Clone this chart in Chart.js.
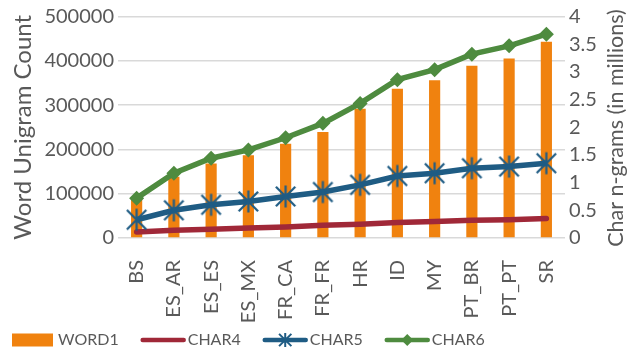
<!DOCTYPE html>
<html>
<head>
<meta charset="utf-8">
<script src="https://cdn.jsdelivr.net/npm/chart.js@4"></script>
<style>
  html, body { margin: 0; padding: 0; background: #ffffff; }
  #wrap { width: 635px; height: 352px; position: relative; }
</style>
</head>
<body>
<div id="wrap"><canvas id="chart"></canvas></div>
<script>
// Corpus sizes per language variant
const categories = ['BS', 'ES_AR', 'ES_ES', 'ES_MX', 'FR_CA', 'FR_FR', 'HR', 'ID', 'MY', 'PT_BR', 'PT_PT', 'SR'];
const word1 = [88000, 138000, 168000, 187000, 213000, 239000, 292000, 337000, 356000, 389000, 405000, 443000];
const char4 = [0.11, 0.14, 0.16, 0.18, 0.20, 0.23, 0.25, 0.28, 0.30, 0.32, 0.33, 0.35];
const char5 = [0.33, 0.50, 0.60, 0.66, 0.75, 0.83, 0.96, 1.12, 1.17, 1.26, 1.29, 1.35];
const char6 = [0.72, 1.17, 1.44, 1.59, 1.81, 2.07, 2.43, 2.86, 3.04, 3.32, 3.47, 3.68];

const leftTicks = { min: 0, max: 500000, step: 100000 };
const rightTicks = { min: 0, max: 4, step: 0.5 };

const LEFT_TITLE = 'Word Unigram Count';
const RIGHT_TITLE = 'Char n-grams (in millions)';

const FONT = 'Lato';
const TEXT = '#595959';
const ORANGE = '#F0820F';
const RED = '#A02838';
const BLUE = '#1F5C84';
const GREEN = '#4E8B3F';

// font size that makes a string span the given length
function fitSize(text, length) {
  const c = document.createElement('canvas').getContext('2d');
  c.font = '100px ' + FONT;
  return Math.round(100 * length / c.measureText(text).width * 2) / 2;
}
const leftTitleSize = fitSize(LEFT_TITLE, 223);
const rightTitleSize = fitSize(RIGHT_TITLE, 237);
const legendSize = fitSize('WORD1', 60);

// Asterisk marker: an X with a vertical stroke through it
function drawAsterisk(ctx, cx, cy, r, color, lw) {
  ctx.save();
  ctx.strokeStyle = color;
  ctx.lineWidth = lw;
  ctx.lineCap = 'butt';
  const d = r * 0.88;
  ctx.beginPath();
  ctx.moveTo(cx - d, cy - d); ctx.lineTo(cx + d, cy + d);
  ctx.moveTo(cx + d, cy - d); ctx.lineTo(cx - d, cy + d);
  ctx.moveTo(cx, cy - r); ctx.lineTo(cx, cy + r);
  ctx.stroke();
  ctx.restore();
}
function drawDiamond(ctx, cx, cy, r, color) {
  ctx.save();
  ctx.fillStyle = color;
  ctx.beginPath();
  ctx.moveTo(cx, cy - r); ctx.lineTo(cx + r, cy);
  ctx.lineTo(cx, cy + r); ctx.lineTo(cx - r, cy);
  ctx.closePath();
  ctx.fill();
  ctx.restore();
}
function asteriskImage(r, color, lw) {
  const c = document.createElement('canvas');
  const s = Math.ceil(r * 2 + lw + 2);
  c.width = s; c.height = s;
  drawAsterisk(c.getContext('2d'), s / 2, s / 2, r, color, lw);
  return c;
}

// Legend drawn along the bottom edge, plus the right-hand axis title
const extras = {
  id: 'extras',
  afterDraw(chart) {
    const ctx = chart.ctx;
    ctx.save();
    ctx.font = legendSize + 'px ' + FONT;
    ctx.textBaseline = 'middle';
    const y = 340;
    let x = 12;
    chart.data.datasets.forEach(ds => {
      if (ds.type === 'bar') {
        ctx.fillStyle = ds.backgroundColor;
        ctx.fillRect(x, y - 6.5, 41, 13);
        x += 41 + 5;
      } else {
        ctx.strokeStyle = ds.borderColor;
        ctx.lineWidth = 4.5;
        ctx.lineCap = 'round';
        ctx.beginPath();
        ctx.moveTo(x + 2, y); ctx.lineTo(x + 43, y);
        ctx.stroke();
        if (ds.legendMarker === 'asterisk') drawAsterisk(ctx, x + 22.5, y, 7, ds.borderColor, 2);
        if (ds.legendMarker === 'diamond') drawDiamond(ctx, x + 22.5, y, 6, ds.borderColor);
        x += 45 + 2;
      }
      ctx.fillStyle = TEXT;
      ctx.textAlign = 'left';
      ctx.fillText(ds.label, x, y);
      x += ctx.measureText(ds.label).width + 22;
    });
    // right axis title, reading bottom to top
    ctx.translate(616, 128);
    ctx.rotate(-Math.PI / 2);
    ctx.textAlign = 'center';
    ctx.font = rightTitleSize + 'px ' + FONT;
    ctx.fillStyle = TEXT;
    ctx.fillText(RIGHT_TITLE, 0, 0);
    ctx.restore();
  }
};

new Chart(document.getElementById('chart'), {
  type: 'bar',
  data: {
    labels: categories,
    datasets: [
      {
        type: 'bar', label: 'WORD1', data: word1, yAxisID: 'y',
        backgroundColor: ORANGE, barPercentage: 0.3, categoryPercentage: 1, order: 4
      },
      {
        type: 'line', label: 'CHAR4', data: char4, yAxisID: 'y2',
        borderColor: RED, backgroundColor: RED, borderWidth: 5.5, pointRadius: 0,
        borderCapStyle: 'round', tension: 0, order: 3
      },
      {
        type: 'line', label: 'CHAR5', data: char5, yAxisID: 'y2',
        borderColor: BLUE, backgroundColor: BLUE, borderWidth: 5.5,
        pointStyle: asteriskImage(11, BLUE, 2.2), pointRadius: 11,
        legendMarker: 'asterisk', tension: 0, order: 2
      },
      {
        type: 'line', label: 'CHAR6', data: char6, yAxisID: 'y2',
        borderColor: GREEN, backgroundColor: GREEN, borderWidth: 5.5,
        pointStyle: 'rectRot', pointRadius: 7.5, pointBorderWidth: 0,
        legendMarker: 'diamond', tension: 0, order: 1
      }
    ]
  },
  options: {
    responsive: true,
    maintainAspectRatio: false,
    animation: false,
    layout: { padding: { top: 16, bottom: 28, left: 0, right: 0 } },
    plugins: {
      legend: { display: false },
      tooltip: { enabled: false }
    },
    scales: {
      x: {
        grid: { display: false },
        border: { display: false },
        ticks: {
          color: TEXT, font: { family: FONT, size: 20 },
          maxRotation: 90, minRotation: 90, padding: 14, autoSkip: false
        },
        afterFit(scale) { scale.height = 86; }
      },
      y: {
        position: 'left',
        min: leftTicks.min, max: leftTicks.max,
        grid: { color: '#D9D9D9', lineWidth: 1.5, drawTicks: false },
        border: { display: false },
        ticks: {
          stepSize: leftTicks.step, color: TEXT, padding: 4,
          font: { family: FONT, size: 20 },
          callback: v => String(v)
        },
        title: {
          display: true, text: LEFT_TITLE, color: TEXT,
          font: { family: FONT, size: leftTitleSize, lineHeight: 1 },
          padding: { top: 23 - leftTitleSize / 2, bottom: 0 }
        },
        afterFit(scale) { scale.width = 118; }
      },
      y2: {
        position: 'right',
        min: rightTicks.min, max: rightTicks.max,
        grid: { display: false, drawTicks: false },
        border: { display: false },
        ticks: {
          stepSize: rightTicks.step, color: TEXT, padding: 4,
          font: { family: FONT, size: 20 },
          callback: v => String(v)
        },
        afterFit(scale) { scale.width = 70; }
      }
    }
  },
  plugins: [extras]
});
</script>
</body>
</html>
